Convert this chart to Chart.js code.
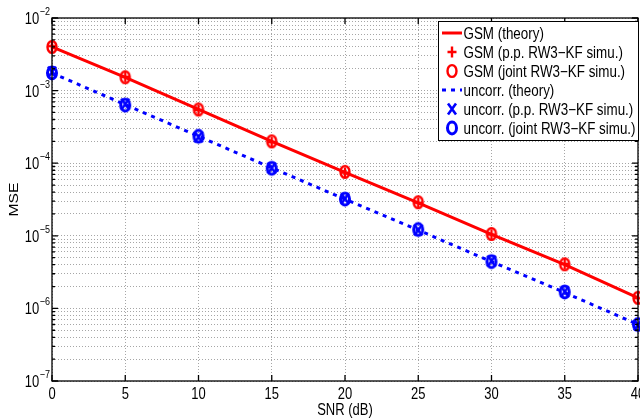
<!DOCTYPE html>
<html>
<head>
<meta charset="utf-8">
<script src="https://cdn.jsdelivr.net/npm/chart.js@4.4.1/dist/chart.umd.min.js"></script>
<style>
  html, body { margin: 0; padding: 0; background: #fff; overflow: hidden; }
  #wrap { position: relative; width: 646px; height: 420px; }
</style>
</head>
<body>
<div id="wrap"><canvas id="myChart"></canvas></div>
<script>
// data
const snrDb = [0, 5, 10, 15, 20, 25, 30, 35, 40];
const gsmTheory = [4.0e-3, 1.52e-3, 5.5e-4, 2.0e-4, 7.5e-5, 2.85e-5, 1.05e-5, 4.0e-6, 1.4e-6];
const gsmPP = [4.1e-3, 1.55e-3, 5.4e-4, 1.95e-4, 7.4e-5, 2.85e-5, 1.04e-5, 4.1e-6, 1.38e-6];
const gsmJoint = [4.0e-3, 1.53e-3, 5.5e-4, 2.0e-4, 7.6e-5, 2.9e-5, 1.06e-5, 4.05e-6, 1.4e-6];
const uncorrTheory = [1.75e-3, 6.4e-4, 2.35e-4, 8.6e-5, 3.2e-5, 1.2e-5, 4.4e-6, 1.65e-6, 6.0e-7];
const uncorrPP = [1.8e-3, 6.5e-4, 2.3e-4, 8.6e-5, 3.25e-5, 1.2e-5, 4.5e-6, 1.7e-6, 5.9e-7];
const uncorrJoint = [1.75e-3, 6.3e-4, 2.35e-4, 8.5e-5, 3.2e-5, 1.22e-5, 4.4e-6, 1.68e-6, 6.0e-7];

const xTicks = [0, 5, 10, 15, 20, 25, 30, 35, 40];
const yExps = [-7, -6, -5, -4, -3, -2];
const xTitle = "SNR (dB)";
const yTitle = "MSE";

const RED = "#ff0000";
const BLUE = "#0000ff";
const FONT = '"Liberation Sans", Arial, sans-serif';
const SY = 1.2; // text in the picture is stretched vertically

// small canvases used as point styles (slightly tall, like the picture)
function marker(kind, color, lw) {
  const c = document.createElement("canvas");
  c.width = 18; c.height = 20;
  const g = c.getContext("2d");
  g.strokeStyle = color;
  g.lineWidth = lw;
  g.beginPath();
  if (kind === "circle") {
    g.ellipse(9, 10, 4.5, 5.9, 0, 0, Math.PI * 2);
  } else if (kind === "plus") {
    g.moveTo(4.5, 10); g.lineTo(13.5, 10);
    g.moveTo(9, 4.5); g.lineTo(9, 15.5);
  } else {
    g.moveTo(5, 4.5); g.lineTo(13, 15.5);
    g.moveTo(13, 4.5); g.lineTo(5, 15.5);
  }
  g.stroke();
  return c;
}

function pts(ys) {
  return snrDb.map((x, i) => ({ x, y: ys[i] }));
}

function lineSet(label, ys, color, dash) {
  return {
    label, data: pts(ys), borderColor: color, borderWidth: 3,
    borderDash: dash, pointRadius: 0, fill: false, clip: false, tension: 0
  };
}

function markSet(label, ys, style) {
  return {
    label, data: pts(ys), showLine: false, pointStyle: style,
    pointRadius: 7, pointHoverRadius: 7, clip: false
  };
}

const datasets = [
  lineSet("GSM (theory)", gsmTheory, RED, []),
  markSet("GSM (p.p. RW3\u2212KF simu.)", gsmPP, marker("plus", RED, 2.4)),
  markSet("GSM (joint RW3\u2212KF simu.)", gsmJoint, marker("circle", RED, 2.4)),
  lineSet("uncorr. (theory)", uncorrTheory, BLUE, [4, 5]),
  markSet("uncorr. (p.p. RW3\u2212KF simu.)", uncorrPP, marker("x", BLUE, 2.6)),
  markSet("uncorr. (joint RW3\u2212KF simu.)", uncorrJoint, marker("circle", BLUE, 3))
];

function text(ctx, s, x, y, size, align) {
  ctx.save();
  ctx.translate(x, y);
  ctx.scale(1, SY);
  ctx.font = size + "px " + FONT;
  ctx.textAlign = align;
  ctx.textBaseline = "alphabetic";
  ctx.fillStyle = "#000";
  ctx.fillText(s, 0, 0);
  ctx.restore();
}

// box, inward ticks, tick labels, axis titles, legend
const matlabAxes = {
  id: "matlabAxes",
  afterDatasetsDraw(chart) {
    const { ctx, chartArea: a, scales } = chart;
    const xs = scales.x, ys = scales.y;
    ctx.save();
    ctx.strokeStyle = "#000";
    ctx.lineWidth = 1.3;
    ctx.strokeRect(a.left, a.top, a.right - a.left, a.bottom - a.top);

    ctx.beginPath();
    xTicks.forEach(v => {
      const px = xs.getPixelForValue(v);
      ctx.moveTo(px, a.bottom); ctx.lineTo(px, a.bottom - 6);
      ctx.moveTo(px, a.top); ctx.lineTo(px, a.top + 6);
    });
    ys.ticks.forEach(t => {
      const py = ys.getPixelForValue(t.value);
      const len = t.major ? 6 : 3;
      ctx.moveTo(a.left, py); ctx.lineTo(a.left + len, py);
      ctx.moveTo(a.right, py); ctx.lineTo(a.right - len, py);
    });
    ctx.stroke();
    ctx.restore();

    xTicks.forEach(v => {
      text(ctx, String(v), xs.getPixelForValue(v), a.bottom + 18, 13, "center");
    });
    yExps.forEach(e => {
      const py = ys.getPixelForValue(Math.pow(10, e));
      const ex = "\u2212" + Math.abs(e);
      ctx.font = "9px " + FONT;
      const w = ctx.measureText(ex).width;
      text(ctx, ex, a.left - 2, py - 3, 9, "right");
      text(ctx, "10", a.left - 2 - w - 0.5, py + 6, 13, "right");
    });

    text(ctx, xTitle, xs.getPixelForValue(20), a.bottom + 34, 13, "center");
    ctx.save();
    ctx.translate(18, (a.top + a.bottom) / 2);
    ctx.rotate(-Math.PI / 2);
    ctx.scale(SY, 1);
    ctx.font = "13px " + FONT;
    ctx.textAlign = "center";
    ctx.fillStyle = "#000";
    ctx.fillText(yTitle, 0, 0);
    ctx.restore();

    // legend
    const lx = 438.5, ly = 21.5, lw = 200, lh = 119;
    ctx.save();
    ctx.fillStyle = "#fff";
    ctx.fillRect(lx, ly, lw, lh);
    ctx.strokeStyle = "#000";
    ctx.lineWidth = 1;
    ctx.strokeRect(lx, ly, lw, lh);
    ctx.restore();
    chart.data.datasets.forEach((d, i) => {
      const cy = 33 + i * 19;
      if (d.showLine === false) {
        const img = d.pointStyle;
        ctx.drawImage(img, 452 - img.width / 2, cy - img.height / 2);
      } else {
        ctx.save();
        ctx.strokeStyle = d.borderColor;
        ctx.lineWidth = d.borderWidth;
        ctx.setLineDash(d.borderDash);
        ctx.beginPath();
        ctx.moveTo(442, cy); ctx.lineTo(462, cy);
        ctx.stroke();
        ctx.restore();
      }
      text(ctx, d.label, 463.5, cy + 5.5, 13.4, "left");
    });
  }
};

const gridStyle = {
  display: true, color: "rgba(0,0,0,0.35)", lineWidth: 1,
  drawTicks: false, tickLength: 0
};

new Chart("myChart", {
  type: "line",
  data: { datasets },
  options: {
    responsive: true,
    maintainAspectRatio: false,
    animation: false,
    events: [],
    layout: { padding: { left: 52, right: 4, top: 18, bottom: 39 } },
    plugins: { legend: { display: false }, tooltip: { enabled: false } },
    scales: {
      x: {
        type: "linear", min: 0, max: 40,
        afterBuildTicks: s => { s.ticks = xTicks.map(v => ({ value: v })); },
        ticks: { display: false, autoSkip: false },
        grid: gridStyle,
        border: { display: false, dash: [1, 2] }
      },
      y: {
        type: "logarithmic", min: 1e-7, max: 1e-2,
        afterBuildTicks: s => {
          const t = [];
          for (let e = yExps[0]; e < yExps[yExps.length - 1]; e++) {
            for (let m = 1; m < 10; m++) t.push({ value: m * Math.pow(10, e), major: m === 1 });
          }
          t.push({ value: Math.pow(10, yExps[yExps.length - 1]), major: true });
          s.ticks = t;
        },
        ticks: { display: false, autoSkip: false },
        grid: gridStyle,
        border: { display: false, dash: [1, 2] }
      }
    }
  },
  plugins: [matlabAxes]
});
</script>
</body>
</html>
